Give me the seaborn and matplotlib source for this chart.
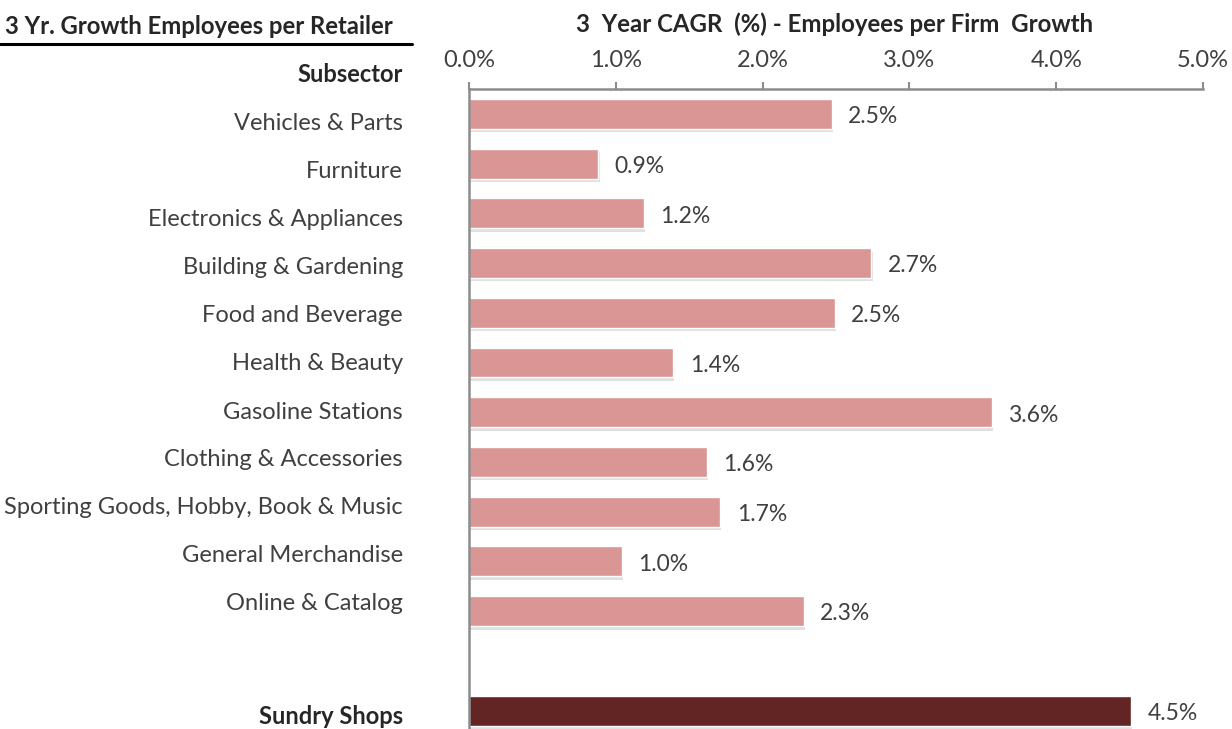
import pandas as pd
import matplotlib.pyplot as plt
import matplotlib.patheffects as pe
from matplotlib.lines import Line2D
from matplotlib.ticker import FuncFormatter
import seaborn as sns

# Datos (CAGR a 3 años, %)
subsectors = ["Vehicles & Parts", "Furniture", "Electronics & Appliances",
              "Building & Gardening", "Food and Beverage", "Health & Beauty",
              "Gasoline Stations", "Clothing & Accessories",
              "Sporting Goods, Hobby, Book & Music", "General Merchandise",
              "Online & Catalog"]
growth = [2.47, 0.88, 1.19, 2.74, 2.49, 1.39, 3.56, 1.62, 1.71, 1.04, 2.28]
total_name = "Sundry Shops"
total_growth = 4.51
x_ticks = [0, 1, 2, 3, 4, 5]

sns.set_theme(style="white")
plt.rcParams['font.family'] = ['Lato', 'DejaVu Sans']

TXT = '#404040'
DARKTXT = '#262626'
PINK = '#D99694'
DARK = '#632523'
GRID = '#8C8C8C'
W, H = 1232, 729

df = pd.DataFrame({
    'Subsector': subsectors + [total_name],
    'Growth': growth + [total_growth],
    'Grupo': ['sub'] * len(subsectors) + ['total'],
})
spacer = ' '
order = subsectors + [spacer, total_name]

fig = plt.figure(figsize=(W / 100, H / 100), dpi=100)
ax = fig.add_axes([469 / W, 0, (1203 - 469) / W, 1 - 89 / H])

sns.barplot(data=df, x='Growth', y='Subsector', hue='Grupo', order=order,
            palette={'sub': PINK, 'total': DARK}, dodge=False, width=0.6,
            legend=False, ax=ax, saturation=1)

for bar in ax.patches:
    bar.set_path_effects([pe.SimplePatchShadow(offset=(1, -2.5), alpha=0.18,
                                               shadow_rgbFace='#555555'),
                          pe.Normal()])

# Etiquetas de valor
for i, name in enumerate(order):
    row = df[df['Subsector'] == name]
    if row.empty:
        continue
    v = row['Growth'].iloc[0]
    ax.annotate(f"{v:.1f}%", (v, i), xytext=(12, -2), textcoords='offset points',
                va='center', ha='left', fontsize=16.5, color=TXT)

ax.set_xlim(0, 5)
ax.set_ylim(12.37, -0.5)
ax.set_xticks(x_ticks)
ax.xaxis.set_major_formatter(FuncFormatter(lambda v, p: f"{v:.1f}%"))
ax.xaxis.tick_top()
ax.tick_params(axis='x', top=True, bottom=False, direction='out', length=5,
               width=1.5, color=GRID, labelsize=17, labelcolor=TXT, pad=8)
ax.tick_params(axis='y', left=False, labelleft=False)
ax.set_xlabel('')
ax.set_ylabel('')

for s in ['right', 'bottom']:
    ax.spines[s].set_visible(False)
for s in ['top', 'left']:
    ax.spines[s].set_color(GRID)
    ax.spines[s].set_linewidth(1.8)

# Tabla de subsectores a la izquierda (filas de 48 px)
label_x = 403 / W
for i, name in enumerate(subsectors):
    fig.text(label_x, 1 - (124 + 48 * i) / H, name, ha='right', va='center',
             fontsize=17, color=TXT)
fig.text(label_x, 1 - 716 / H, total_name, ha='right', va='center',
         fontsize=17, fontweight='bold', color=DARKTXT)
fig.text(label_x, 1 - 75 / H, "Subsector", ha='right', va='center',
         fontsize=17, fontweight='bold', color=DARKTXT)

fig.text(835 / W, 1 - 24 / H, "3  Year CAGR  (%) - Employees per Firm  Growth",
         ha='center', va='center', fontsize=17.3, fontweight='bold', color=DARKTXT)
fig.text(5 / W, 1 - 27 / H, "3 Yr. Growth Employees per Retailer",
         ha='left', va='center', fontsize=17.2, fontweight='bold', color=DARKTXT)
fig.add_artist(Line2D([0, 412 / W], [1 - 44 / H] * 2, color='black', lw=2.2))

fig.savefig('out.png', dpi=100)
plt.close(fig)
